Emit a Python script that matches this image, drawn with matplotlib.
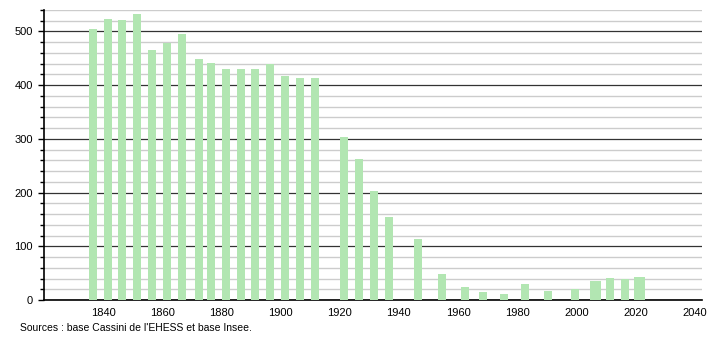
import matplotlib
matplotlib.use('Agg')
import matplotlib.pyplot as plt
from matplotlib.ticker import MultipleLocator

# population per census year
years = [1836, 1841, 1846, 1851, 1856, 1861, 1866, 1872, 1876, 1881, 1886,
         1891, 1896, 1901, 1906, 1911, 1921, 1926, 1931, 1936, 1946, 1954,
         1962, 1968, 1975, 1982, 1990, 1999, 2006, 2011, 2016, 2021]
population = [504, 524, 522, 532, 466, 479, 495, 448, 442, 431, 431,
              430, 440, 418, 414, 414, 303, 263, 203, 155, 114, 48,
              24, 15, 11, 30, 17, 20, 35, 41, 39, 43]
xticks = [1840, 1860, 1880, 1900, 1920, 1940, 1960, 1980, 2000, 2020, 2040]
yticks = [0, 100, 200, 300, 400, 500]

plt.rcParams['font.family'] = ['Liberation Sans', 'DejaVu Sans']

fig = plt.figure(figsize=(7.1, 3.4), dpi=100)
ax = fig.add_axes([44 / 710, 40 / 340, 658 / 710, 290 / 340])

# two bars look a bit wider in the original
widths = [3.7 if y in (2006, 2021) else 2.7 for y in years]
ax.bar([y + 0.5 for y in years], population, width=widths,
       color='#b2e6b2', zorder=3)

ax.set_xlim(1820, 2042.5)
ax.set_ylim(0, 540)
ax.set_xticks(xticks)
ax.set_yticks(yticks)
ax.yaxis.set_minor_locator(MultipleLocator(20))

ax.grid(axis='y', which='minor', color='#cccccc', linewidth=1, zorder=0)
ax.grid(axis='y', which='major', color='#333333', linewidth=0.9, zorder=1)

for side in ('top', 'right'):
    ax.spines[side].set_visible(False)
for side in ('left', 'bottom'):
    ax.spines[side].set_color('black')
    ax.spines[side].set_linewidth(1.2)

ax.tick_params(axis='x', length=0, pad=6, labelsize=8)
ax.tick_params(axis='y', which='both', length=4, width=1, labelsize=8, pad=4)
ax.tick_params(axis='y', which='minor', length=3)

fig.text(20 / 710, 1 - 328 / 340, "Sources : base Cassini de l'EHESS et base Insee.",
         fontsize=7.5, va='center', ha='left')

fig.savefig('out.png', dpi=100)
